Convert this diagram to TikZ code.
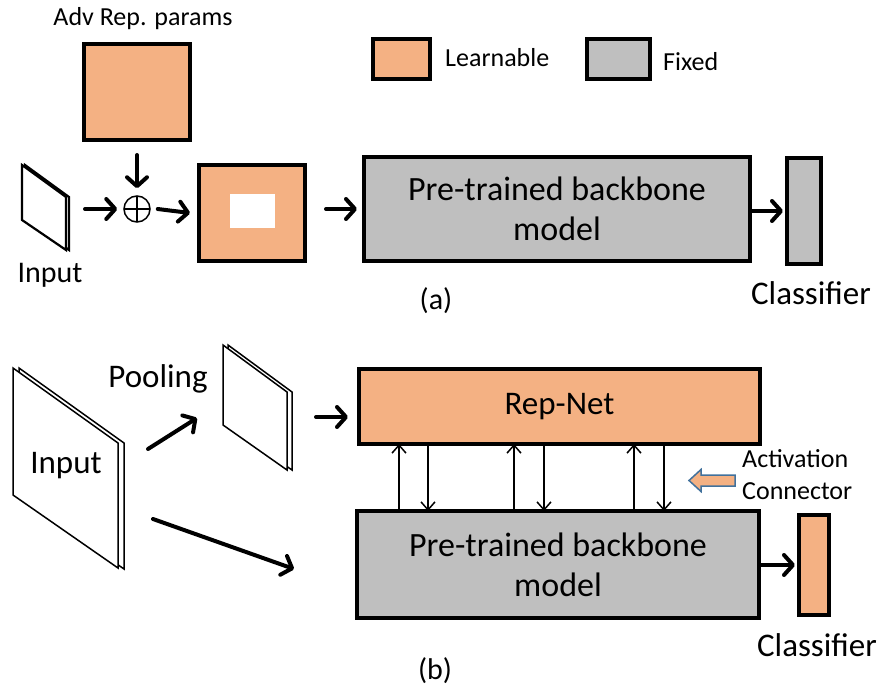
\documentclass[tikz,border=0pt]{standalone}
\usepackage{fontspec}
\setmainfont{Carlito}
\usetikzlibrary{arrows.meta}
\definecolor{learn}{HTML}{F4B183}
\definecolor{fixedc}{HTML}{BFBFBF}
\definecolor{outl}{HTML}{41719C}
\tikzset{
  blk/.style={draw=black, line width=4pt, inner sep=0pt},
  lrn/.style={blk, fill=learn},
  fxd/.style={blk, fill=fixedc},
  big/.style={font=\fontsize{33}{40}\selectfont, align=center},
  bbtext/.style={font=\fontsize{34}{40}\selectfont, align=center},
  small/.style={font=\fontsize{26}{32}\selectfont, align=left},
  thickarrow/.style={line width=4pt, line cap=round, -{Straight Barb[length=9pt,width=20pt,line cap=round,line join=round]}},
  conn/.style={line width=1.5pt, -{Straight Barb[length=8pt,width=14pt]}},
  plate/.style={draw=black, fill=white, line join=miter}
}
\begin{document}
\begin{tikzpicture}[x=1pt,y=-1pt]
\useasboundingbox (0,0) rectangle (886,695);

% ---------------- (a) ----------------
\node[small, align=center] (advlbl) at (143,19) {Adv Rep. params};
\node[lrn, minimum width=106pt, minimum height=96pt] (adv) at (137,92) {};

% legend
\node[lrn, minimum width=57pt, minimum height=40pt] (legL) at (401,59.5) {};
\node[small, anchor=west, inner sep=0pt] (legLt) at (445,58) {Learnable};
\node[fxd, minimum width=63pt, minimum height=40pt] (legF) at (618,59.5) {};
\node[small, anchor=west, inner sep=0pt] (legFt) at (663,62) {Fixed};

% small input plate
\draw[plate, line width=2.2pt] (25,165) -- (69,197) -- (69,250) -- (25,220) -- cycle;
\draw[plate, line width=2.2pt] (22,165) -- (66,197) -- (66,250) -- (22,220) -- cycle;
\node[big, font=\fontsize{30}{36}\selectfont] (inAlbl) at (50,275) {Input};
\coordinate (inA) at (85,209);

% oplus
\node[draw, circle, line width=1.5pt, minimum size=26pt, inner sep=0pt,
  path picture={\draw[line width=1.5pt] (path picture bounding box.north) -- (path picture bounding box.south)
                 (path picture bounding box.west) -- (path picture bounding box.east);}] (plus) at (137,209) {};

\node[lrn, minimum width=106pt, minimum height=96pt] (masked) at (252,213) {};
\node[fill=white, minimum width=45pt, minimum height=34pt, inner sep=0pt] (hole) at (252.5,211) {};

\node[fxd, minimum width=386pt, minimum height=104pt, bbtext] (bbA) at (557,209) {Pre-trained backbone\\model};
\node[fxd, minimum width=34pt, minimum height=106pt] (clsA) at (804,211) {};
\node[big] (clsAlbl) at (811,293) {Classifier};
\node[big, font=\fontsize{30}{36}\selectfont] (capA) at (436,301) {(a)};

\coordinate (mA) at (326,209);
\coordinate (advs) at (137,155);
\draw[thickarrow] (advs) -- ([yshift=7pt]plus.north);
\draw[thickarrow] (inA) -- ([xshift=-6pt]plus.west);
\draw[thickarrow] ([xshift=7pt]plus.east) -- ([xshift=-7pt]masked.west);
\draw[thickarrow] (mA) -- ([xshift=-5pt]bbA.west);
\draw[thickarrow] (bbA.east |- clsA.west) -- ([xshift=-2pt]clsA.west);

% ---------------- (b) ----------------
% big input plate
\draw[plate, line width=1.5pt] (19,368) -- (124,443) -- (124,569) -- (19,495) -- cycle;
\draw[plate, line width=1.5pt] (13,368) -- (118,443) -- (118,568) -- (13,495) -- cycle;
\node[big] (inBlbl) at (66,466) {Input};

% pooling plate
\draw[plate, line width=1.5pt] (228,345) -- (292,392) -- (292,470) -- (228,425) -- cycle;
\draw[plate, line width=1.5pt] (223,345) -- (287,392) -- (287,470) -- (223,425) -- cycle;
\node[big] (poollbl) at (158,379) {Pooling};

\node[lrn, minimum width=401pt, minimum height=75pt, big] (repnet) at (559.5,406.5) {Rep-Net};
\node[fxd, minimum width=402pt, minimum height=107pt, bbtext] (bbB) at (558,564.5) {Pre-trained backbone\\model};
\node[lrn, minimum width=30pt, minimum height=100pt] (clsB) at (814,565) {};
\node[big] (clsBlbl) at (817,645) {Classifier};
\node[big, font=\fontsize{30}{36}\selectfont] (capB) at (435,671) {(b)};

\coordinate (p1) at (148,449);
\coordinate (p2) at (197,418);
\coordinate (q1) at (153,519);
\coordinate (q2) at (294,569);
\coordinate (r1) at (316,417);
\draw[thickarrow] (p1) -- (p2);
\draw[thickarrow] (q1) -- (q2);
\draw[thickarrow] (r1) -- ([xshift=-9pt]repnet.west |- r1);
\draw[thickarrow] (bbB.east |- clsB.west) -- ([xshift=-2pt]clsB.west);

% activation connectors
\foreach \u/\d [count=\i] in {399/428, 514/544, 634/664}{
  \coordinate (u\i) at (\u,0);
  \coordinate (d\i) at (\d,0);
  \draw[conn] ([yshift=-2pt]bbB.north -| u\i) -- ([yshift=2pt]repnet.south -| u\i);
  \draw[conn] ([yshift=2pt]repnet.south -| d\i) -- ([yshift=-2pt]bbB.north -| d\i);
}

% hollow arrow
\draw[draw=outl, fill=learn, line width=1.5pt, line join=miter]
  (735,475) -- (701,475) -- (701,469.5) -- (689,480.5) -- (701,491.5) -- (701,486) -- (735,486) -- cycle;
\node[small, anchor=north west, inner sep=0pt] (actlbl) at (742,449) {Activation\\Connector};
\end{tikzpicture}
\end{document}
